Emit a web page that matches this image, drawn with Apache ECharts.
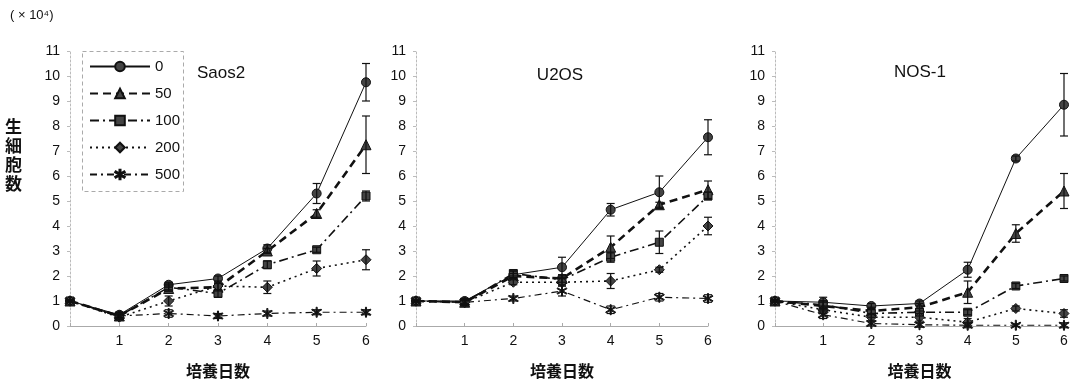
<!DOCTYPE html>
<html><head><meta charset="utf-8">
<script src="https://cdn.jsdelivr.net/npm/echarts@6/dist/echarts.min.js"></script>
<style>html,body{margin:0;padding:0;background:#fff}#c{width:1078px;height:384px}</style>
</head><body><div id="c"></div>
<script>
const days = [0, 1, 2, 3, 4, 5, 6];
const doses = ['0', '50', '100', '200', '500'];
const panelTitles = ['Saos2', 'U2OS', 'NOS-1'];
const yTicks = [0, 1, 2, 3, 4, 5, 6, 7, 8, 9, 10, 11];
const xName = '培養日数';
const yName = '生細胞数';
const unitLabel = '( × 10⁴)';

const saos2Mean = [
  [1.0, 0.45, 1.65, 1.9, 3.1, 5.3, 9.75],
  [1.0, 0.4, 1.5, 1.55, 3.0, 4.5, 7.25],
  [1.0, 0.4, 1.55, 1.3, 2.45, 3.05, 5.2],
  [1.0, 0.35, 1.0, 1.6, 1.55, 2.3, 2.65],
  [1.0, 0.4, 0.5, 0.4, 0.5, 0.55, 0.55]
];
const saos2Err = [
  [0.05, 0.1, 0.1, 0.1, 0.15, 0.4, 0.75],
  [0.05, 0.1, 0.1, 0.15, 0.1, 0.15, 1.15],
  [0.05, 0.1, 0.1, 0.15, 0.15, 0.1, 0.2],
  [0.05, 0.1, 0.2, 0.15, 0.25, 0.3, 0.4],
  [0.05, 0.1, 0.15, 0.1, 0.1, 0.1, 0.1]
];
const u2osMean = [
  [1.0, 1.0, 2.05, 2.35, 4.65, 5.35, 7.55],
  [1.0, 0.95, 2.0, 1.9, 3.15, 4.85, 5.45],
  [1.0, 0.95, 2.1, 1.85, 2.75, 3.35, 5.2],
  [1.0, 0.95, 1.75, 1.75, 1.8, 2.25, 4.0],
  [1.0, 0.95, 1.1, 1.4, 0.65, 1.15, 1.1]
];
const u2osErr = [
  [0.05, 0.1, 0.15, 0.4, 0.25, 0.65, 0.7],
  [0.05, 0.1, 0.1, 0.15, 0.45, 0.1, 0.35],
  [0.05, 0.1, 0.1, 0.2, 0.2, 0.45, 0.15],
  [0.05, 0.1, 0.1, 0.15, 0.3, 0.1, 0.35],
  [0.05, 0.1, 0.1, 0.2, 0.15, 0.15, 0.15]
];
const nos1Mean = [
  [1.0, 0.95, 0.8, 0.9, 2.25, 6.7, 8.85],
  [1.0, 0.8, 0.6, 0.75, 1.35, 3.7, 5.4],
  [1.0, 0.85, 0.5, 0.55, 0.55, 1.6, 1.9],
  [1.0, 0.65, 0.35, 0.35, 0.15, 0.7, 0.5],
  [1.0, 0.45, 0.1, 0.05, 0.03, 0.03, 0.03]
];
const nos1Err = [
  [0.05, 0.2, 0.1, 0.1, 0.3, 0.1, 1.25],
  [0.05, 0.15, 0.15, 0.15, 0.45, 0.35, 0.7],
  [0.05, 0.15, 0.15, 0.15, 0.1, 0.1, 0.1],
  [0.05, 0.15, 0.15, 0.15, 0.15, 0.1, 0.15],
  [0.05, 0.15, 0.1, 0.1, 0.1, 0.05, 0.1]
];

const panelMeans = [saos2Mean, u2osMean, nos1Mean];
const panelErrs = [saos2Err, u2osErr, nos1Err];

const asterisk = 'path://M9 0L11 0L11 20L9 20Z M0.77 5.35L18.17 16.35L19.23 14.65L1.83 3.65Z M1.83 16.35L19.23 5.35L18.17 3.65L0.77 14.65Z';
const styles = [
  { symbol: 'circle', size: 9, line: { width: 1, type: 'solid' } },
  { symbol: 'triangle', size: 10, line: { width: 2.6, type: [8, 5] } },
  { symbol: 'rect', size: 8, line: { width: 1.6, type: [9, 4, 2, 4] } },
  { symbol: 'diamond', size: 10, line: { width: 1.6, type: [2, 4] } },
  { symbol: asterisk, size: 10, line: { width: 1.2, type: [7, 4, 2, 4] } }
];

const font = 'Liberation Sans, Arial, sans-serif';
const cjk = 'Noto Sans CJK JP, sans-serif';
const grids = [
  { left: 70, top: 51, width: 296, height: 277 },
  { left: 416, top: 51, width: 292, height: 277 },
  { left: 775, top: 51, width: 289, height: 277 }
];

const xAxes = [], yAxes = [], series = [];
grids.forEach((g, p) => {
  xAxes.push({
    gridIndex: p, type: 'value', min: 0, max: 6, interval: 1,
    name: xName, nameLocation: 'middle', nameGap: 37,
    nameTextStyle: { fontFamily: cjk, fontSize: 16, color: '#111', fontWeight: 'bold' },
    axisLine: { show: true, lineStyle: { color: '#aaa', width: 1 } },
    axisTick: { show: true, inside: true, length: 3, lineStyle: { color: '#aaa' } },
    axisLabel: { margin: 8, fontFamily: font, fontSize: 14, color: '#111',
      formatter: v => (v === 0 ? '' : String(v)) },
    splitLine: { show: false }
  });
  yAxes.push({
    gridIndex: p, type: 'value', min: yTicks[0], max: yTicks[yTicks.length - 1], interval: 1,
    axisLine: { show: true, lineStyle: { color: '#bbb', width: 1, type: [2, 2] } },
    axisTick: { show: true, length: 3, lineStyle: { color: '#bbb' } },
    axisLabel: { margin: 10, fontFamily: font, fontSize: 14, color: '#111' },
    splitLine: { show: false }
  });
  const means = panelMeans[p], errs = panelErrs[p];
  doses.forEach((d, i) => {
    const st = styles[i];
    series.push({
      name: d, type: 'line', xAxisIndex: p, yAxisIndex: p,
      data: days.map((x, k) => [x, means[i][k]]),
      symbol: st.symbol, symbolSize: st.size, showAllSymbol: true,
      lineStyle: { color: '#111', width: st.line.width, type: st.line.type },
      itemStyle: { color: '#444', borderColor: '#111', borderWidth: 1 },
      emphasis: { disabled: true }, animation: false, z: 3
    });
    series.push({
      name: d, type: 'custom', xAxisIndex: p, yAxisIndex: p,
      data: days.map((x, k) => [x, means[i][k] - errs[i][k], means[i][k] + errs[i][k]]),
      renderItem: (params, api) => {
        const lo = api.coord([api.value(0), api.value(1)]);
        const hi = api.coord([api.value(0), api.value(2)]);
        const w = 4;
        const s = { stroke: '#111', lineWidth: 1.2 };
        return { type: 'group', children: [
          { type: 'line', shape: { x1: lo[0], y1: lo[1], x2: hi[0], y2: hi[1] }, style: s },
          { type: 'line', shape: { x1: lo[0] - w, y1: lo[1], x2: lo[0] + w, y2: lo[1] }, style: s },
          { type: 'line', shape: { x1: hi[0] - w, y1: hi[1], x2: hi[0] + w, y2: hi[1] }, style: s }
        ] };
      },
      animation: false, z: 4, silent: true
    });
  });
});

const titlePos = [[197, 73, 'left'], [560, 75, 'center'], [920, 72, 'center']];
const graphics = [
  { type: 'text', left: 10, top: 9, style: { text: unitLabel, font: '13px ' + font, fill: '#111' } },
  { type: 'text', left: 5, top: 117, style: { text: yName.split('').join('\n'), font: 'bold 17px ' + cjk, lineHeight: 19, fill: '#111' } },
  { type: 'rect', shape: { x: 82.5, y: 51.5, width: 101, height: 140 }, style: { fill: 'none', stroke: '#aaa', lineWidth: 1, lineDash: [4, 3] } }
];
panelTitles.forEach((t, p) => {
  graphics.push({ type: 'text', x: titlePos[p][0], y: titlePos[p][1],
    style: { text: t, font: '17px ' + font, fill: '#111', align: titlePos[p][2], verticalAlign: 'middle' } });
});

const chart = echarts.init(document.getElementById('c'), null, { renderer: 'canvas' });
chart.setOption({
  animation: false,
  backgroundColor: '#fff',
  grid: grids,
  xAxis: xAxes,
  yAxis: yAxes,
  legend: {
    data: doses, orient: 'vertical', left: 89, top: 59, padding: 0,
    itemWidth: 60, itemHeight: 12, itemGap: 12,
    textStyle: { fontFamily: font, fontSize: 15, color: '#111', padding: [0, 0, 0, 0] },
    selectedMode: false
  },
  graphic: graphics,
  series: series
});
</script>
</body></html>
